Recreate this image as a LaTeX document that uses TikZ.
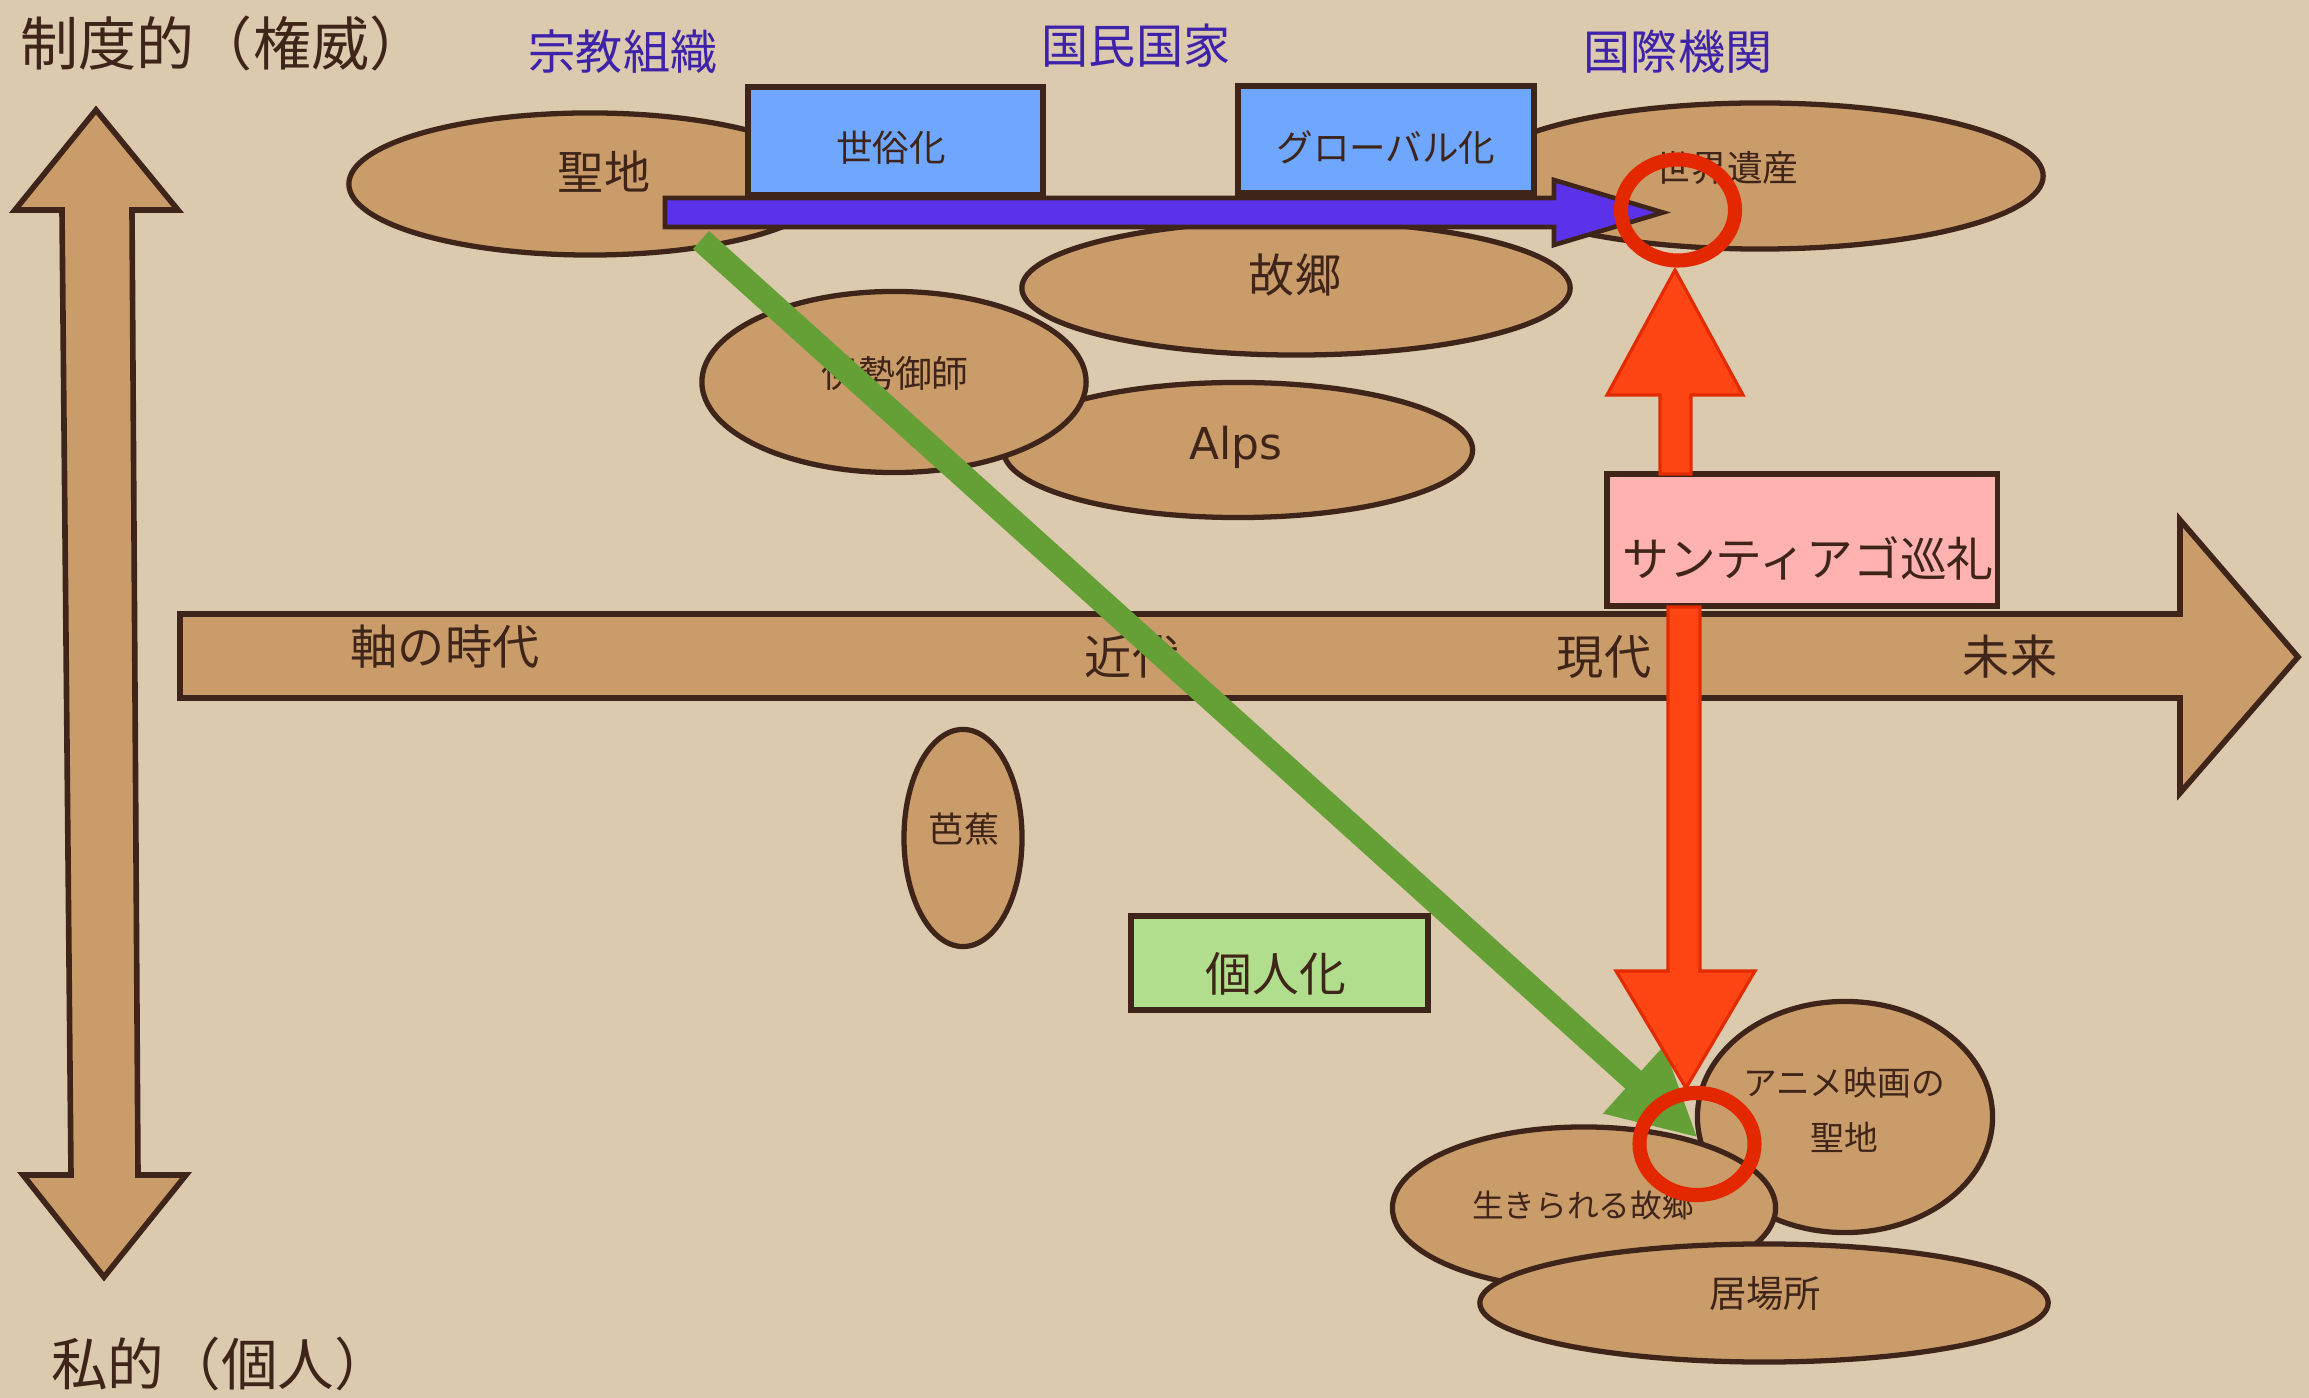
\documentclass[tikz,border=0pt]{standalone}
\usepackage{fontspec}
\setmainfont{Noto Sans CJK JP}
\newfontfamily\latinfont{DejaVu Sans}
\usetikzlibrary{shapes.geometric,arrows.meta,calc}
\definecolor{bgc}{HTML}{DCCAAE}
\definecolor{tanc}{HTML}{CA9C6A}
\definecolor{lineb}{HTML}{3F2519}
\definecolor{lblue}{HTML}{3F22AA}
\definecolor{boxblue}{HTML}{6FA7FF}
\definecolor{purp}{HTML}{5B32EA}
\definecolor{greenc}{HTML}{64A036}
\definecolor{redf}{HTML}{FF4513}
\definecolor{redd}{HTML}{E32A00}
\definecolor{ringc}{HTML}{E32800}
\definecolor{pinkc}{HTML}{FFB2AF}
\definecolor{lgreen}{HTML}{B1DE8C}
\newcommand\myfs[1]{\fontsize{#1}{#1}\selectfont}
\tikzset{
  blob/.style={ellipse, draw=lineb, line width=1.5pt, fill=tanc, inner sep=0pt},
  bluebox/.style={rectangle, draw=lineb, line width=1.5pt, fill=boxblue, inner sep=0pt},
  txt/.style={text=lineb, inner sep=0pt},
  headlbl/.style={text=lblue, inner sep=0pt, font=\myfs{13.4pt}},
  ring/.style={ellipse, draw=ringc, line width=4pt, inner sep=0pt},
  redarrow/.style={fill=redf, draw=redd, line width=0.9pt, line join=miter},
  purplearrow/.style={fill=purp, draw=lineb, line width=1.3pt, line join=miter},
  greenarrow/.style={draw=greenc, line width=0.24cm, -{Triangle[length=0.87cm,width=0.84cm]}},
  bigarrow/.style={fill=tanc, draw=lineb, line width=1.6pt, line join=miter}
}
\begin{document}
\begin{tikzpicture}[x=0.01cm,y=-0.01cm]
\fill[bgc] (0,0) rectangle (2309,1398);
\useasboundingbox (0,0) rectangle (2309,1398);

% axis labels
\node[txt, font=\myfs{16.5pt}] (tlabel) at (224,43) {制度的（権威）};
\node[txt, font=\myfs{16.1pt}] (blabel) at (221,1364) {私的（個人）};

% vertical double arrow
\draw[bigarrow] (96,110) -- (178,210) -- (132,210) -- (138,1175) -- (186,1175)
  -- (104,1277) -- (23,1175) -- (71,1175) -- (62,210) -- (15,210) -- cycle;

% timeline arrow
\draw[bigarrow] (180,614) -- (2180,614) -- (2180,520) -- (2298,657) -- (2180,793)
  -- (2180,698) -- (180,698) -- cycle;
\node[txt, font=\myfs{13.4pt}] (jiku) at (445,647) {軸の時代};
\node[txt, font=\myfs{13.4pt}] (kindai) at (1132,657) {近代};
\node[txt, font=\myfs{13.4pt}] (gendai) at (1604,657) {現代};
\node[txt, font=\myfs{13.4pt}] (mirai) at (2010,657) {未来};

% header labels
\node[headlbl] (shukyo) at (623,52) {宗教組織};
\node[headlbl] (kokumin) at (1136,46) {国民国家};
\node[headlbl] (kokusai) at (1678,52) {国際機関};

% ellipses (top)
\node[blob, minimum width=4.82cm, minimum height=1.42cm] (seichi) at (590,184) {};
\node[blob, minimum width=5.66cm, minimum height=1.46cm] (isan) at (1760,176) {};
\node[blob, minimum width=5.48cm, minimum height=1.34cm] (kokyo) at (1296,288) {};
\node[blob, minimum width=4.69cm, minimum height=1.35cm] (alps) at (1238,450) {};
\node[blob, minimum width=3.84cm, minimum height=1.81cm] (ise) at (894,382) {};
\node[blob, minimum width=1.18cm, minimum height=2.17cm] (basho) at (963,838) {};

% ellipses (bottom)
\node[blob, minimum width=2.95cm, minimum height=2.31cm] (anime) at (1845,1117) {};
\node[blob, minimum width=3.83cm, minimum height=1.62cm] (ikiru) at (1584,1208) {};
\node[blob, minimum width=5.68cm, minimum height=1.18cm] (ibasho) at (1764,1303) {};

% blue boxes
\node[bluebox, minimum width=2.95cm, minimum height=1.08cm] (sezoku) at (895.5,141) {};
\node[bluebox, minimum width=2.96cm, minimum height=1.07cm] (global) at (1386,139.5) {};

% purple arrow
\coordinate (pstart) at (665,212.5);
\coordinate (ptip) at (1663,212.5);
\draw[purplearrow] ($(pstart)+(0,-14.5)$) -- ($(ptip)+(-109,-14.5)$) -- ($(ptip)+(-109,-32.5)$)
  -- (ptip) -- ($(ptip)+(-109,32.5)$) -- ($(ptip)+(-109,14.5)$) -- ($(pstart)+(0,14.5)$) -- cycle;

% labels
\node[txt, font=\myfs{13.1pt}] (seichi-t) at (604,172) {聖地};
\node[txt, font=\myfs{10.4pt}] (sezoku-t) at (891,148) {世俗化};
\node[txt, font=\myfs{10.4pt}] (global-t) at (1386,148) {グローバル化};
\node[txt, font=\myfs{10.2pt}] (isan-t) at (1727,168) {世界遺産};
\node[txt, font=\myfs{13.1pt}] (kokyo-t) at (1295,275) {故郷};
\node[txt, font=\myfs{10.5pt}] (ise-t) at (895,373) {伊勢御師};
\node[txt, font=\latinfont\myfs{12.5pt}, anchor=base] (alps-t) at (1236,460) {Alps};
\node[txt, font=\myfs{10pt}] (basho-t) at (964,829) {芭蕉};
\node[txt, font=\myfs{9pt}] (ikiru-t) at (1583,1205) {生きられる故郷};
\node[txt, align=center, font=\fontsize{9.6pt}{15.6pt}\selectfont] (anime-t) at (1844,1110) {アニメ映画の\\聖地};
\node[txt, font=\myfs{10.6pt}] (ibasho-t) at (1765,1294) {居場所};

% green arrow
\coordinate (gstart) at (701,240);
\coordinate (gend) at (1698,1138);
\draw[greenarrow] (gstart) -- (gend);

% boxes
\node[rectangle, draw=lineb, line width=1.5pt, fill=pinkc, inner sep=0pt,
  minimum width=3.90cm, minimum height=1.32cm] (santiago) at (1802,540) {};
\node[txt, font=\myfs{13.3pt}] (santiago-t) at (1808,558) {サンティアゴ巡礼};
\node[rectangle, draw=lineb, line width=1.5pt, fill=lgreen, inner sep=0pt,
  minimum width=2.97cm, minimum height=0.94cm] (kojin) at (1279.5,963) {};
\node[txt, font=\myfs{13.3pt}] (kojin-t) at (1276,974) {個人化};

% red arrows
\coordinate (uptip) at (1675,270);
\draw[redarrow] (1660,474) -- (1660,395) -- (1607,395) -- (uptip) -- (1743,395)
  -- (1691,395) -- (1691,474) -- cycle;
\coordinate (dntip) at (1686,1088);
\draw[redarrow] (1668,607) -- (1700,607) -- (1700,971) -- (1755,971) -- (dntip)
  -- (1616,971) -- (1668,971) -- cycle;

% red rings
\node[ring, minimum width=1.14cm, minimum height=1.01cm] (ringtop) at (1678,210) {};
\node[ring, minimum width=1.15cm, minimum height=1.02cm] (ringbot) at (1697,1144) {};
\end{tikzpicture}
\end{document}
